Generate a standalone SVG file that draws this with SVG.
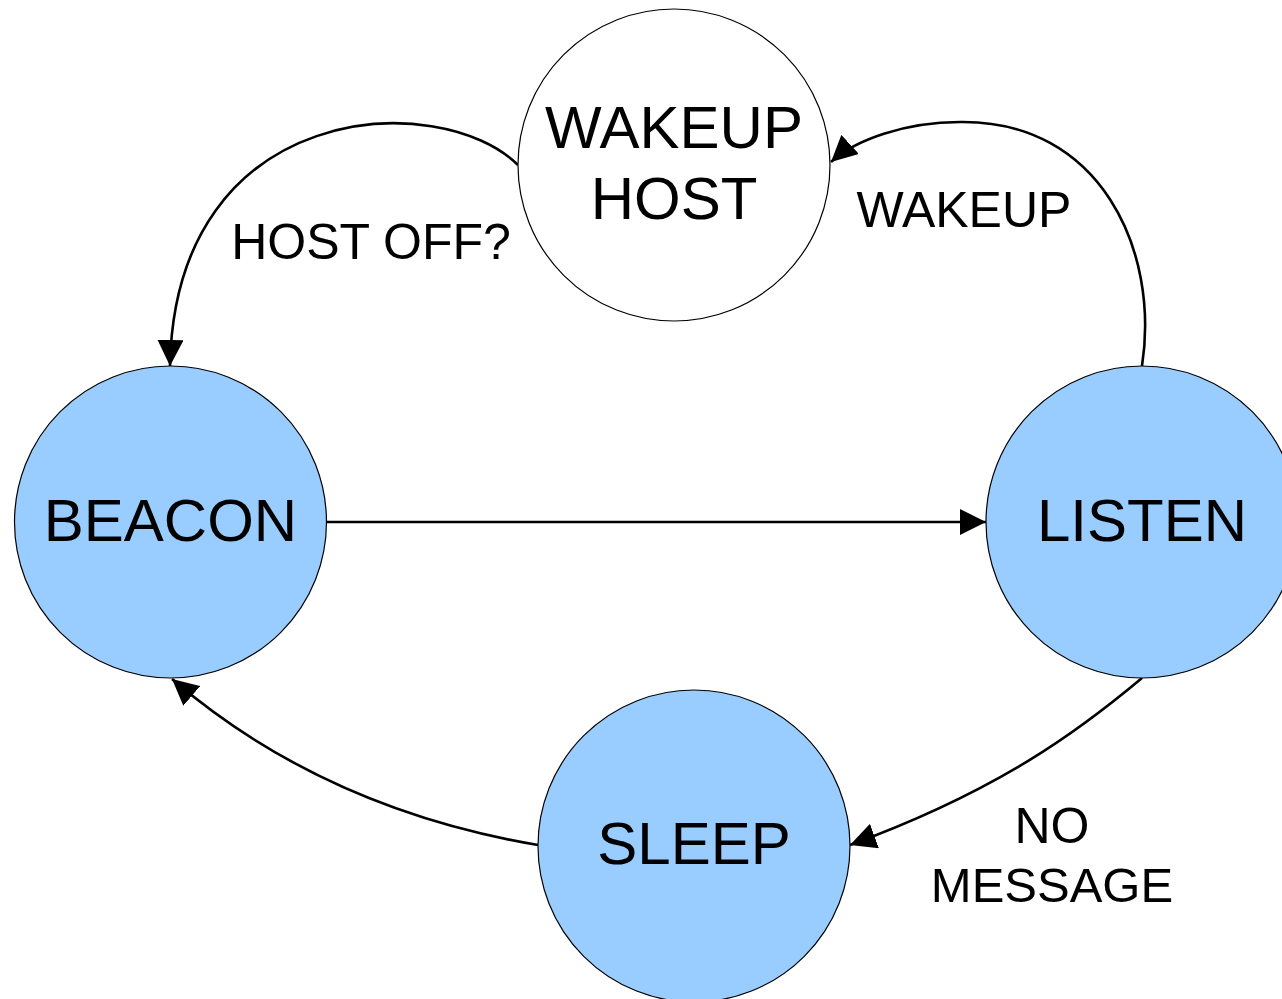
<svg xmlns="http://www.w3.org/2000/svg" width="1282" height="999" viewBox="0 0 1282 999">
<style>
.st{fill:#99ccff;stroke:#000;stroke-width:1.2}
.wh{fill:#fff;stroke:#000;stroke-width:1.2}
.nt{font-family:"Liberation Sans",Arial,sans-serif;font-size:60px;fill:#000;text-anchor:middle}
.lb{font-family:"Liberation Sans",Arial,sans-serif;font-size:50px;fill:#000;text-anchor:middle}
.cn{fill:none;stroke:#000;stroke-width:2.6}
</style>
<defs>
<marker id="ah" viewBox="0 0 26 26" refX="26" refY="13" markerWidth="26" markerHeight="26" markerUnits="userSpaceOnUse" orient="auto">
<path d="M0,0 L26,13 L0,26 Z" fill="#000"/>
</marker>
</defs>
<rect width="1282" height="999" fill="#fff"/>
<g id="connectors">
<path class="cn" d="M518,165 C440,88 175,98 170,366" marker-end="url(#ah)"/>
<path class="cn" d="M1142,366 C1160,250 1100,120 960,122 C905,122 855,140 831,162" marker-end="url(#ah)"/>
<path class="cn" d="M327,522 L986,522" marker-end="url(#ah)"/>
<path class="cn" d="M1142,678 C1080,730 1000,790 850,845" marker-end="url(#ah)"/>
<path class="cn" d="M538,845 C420,825 290,780 172,679" marker-end="url(#ah)"/>
</g>
<g id="wakeup-host">
<circle class="wh" cx="674" cy="165" r="156"/>
<text class="nt" x="674" y="148">WAKEUP</text>
<text class="nt" x="674" y="219">HOST</text>
</g>
<g id="beacon">
<circle class="st" cx="170.5" cy="522" r="156"/>
<text class="nt" x="170.5" y="541">BEACON</text>
</g>
<g id="listen">
<circle class="st" cx="1142" cy="522" r="156"/>
<text class="nt" x="1142" y="541">LISTEN</text>
</g>
<g id="sleep">
<circle class="st" cx="694" cy="846" r="156"/>
<text class="nt" x="694" y="864">SLEEP</text>
</g>
<g id="labels">
<text class="lb" x="371" y="259">HOST OFF?</text>
<text class="lb" x="964" y="227">WAKEUP</text>
<text class="lb" x="1052" y="843">NO</text>
<text class="lb" x="1052" y="902" style="font-size:49px">MESSAGE</text>
</g>
</svg>
